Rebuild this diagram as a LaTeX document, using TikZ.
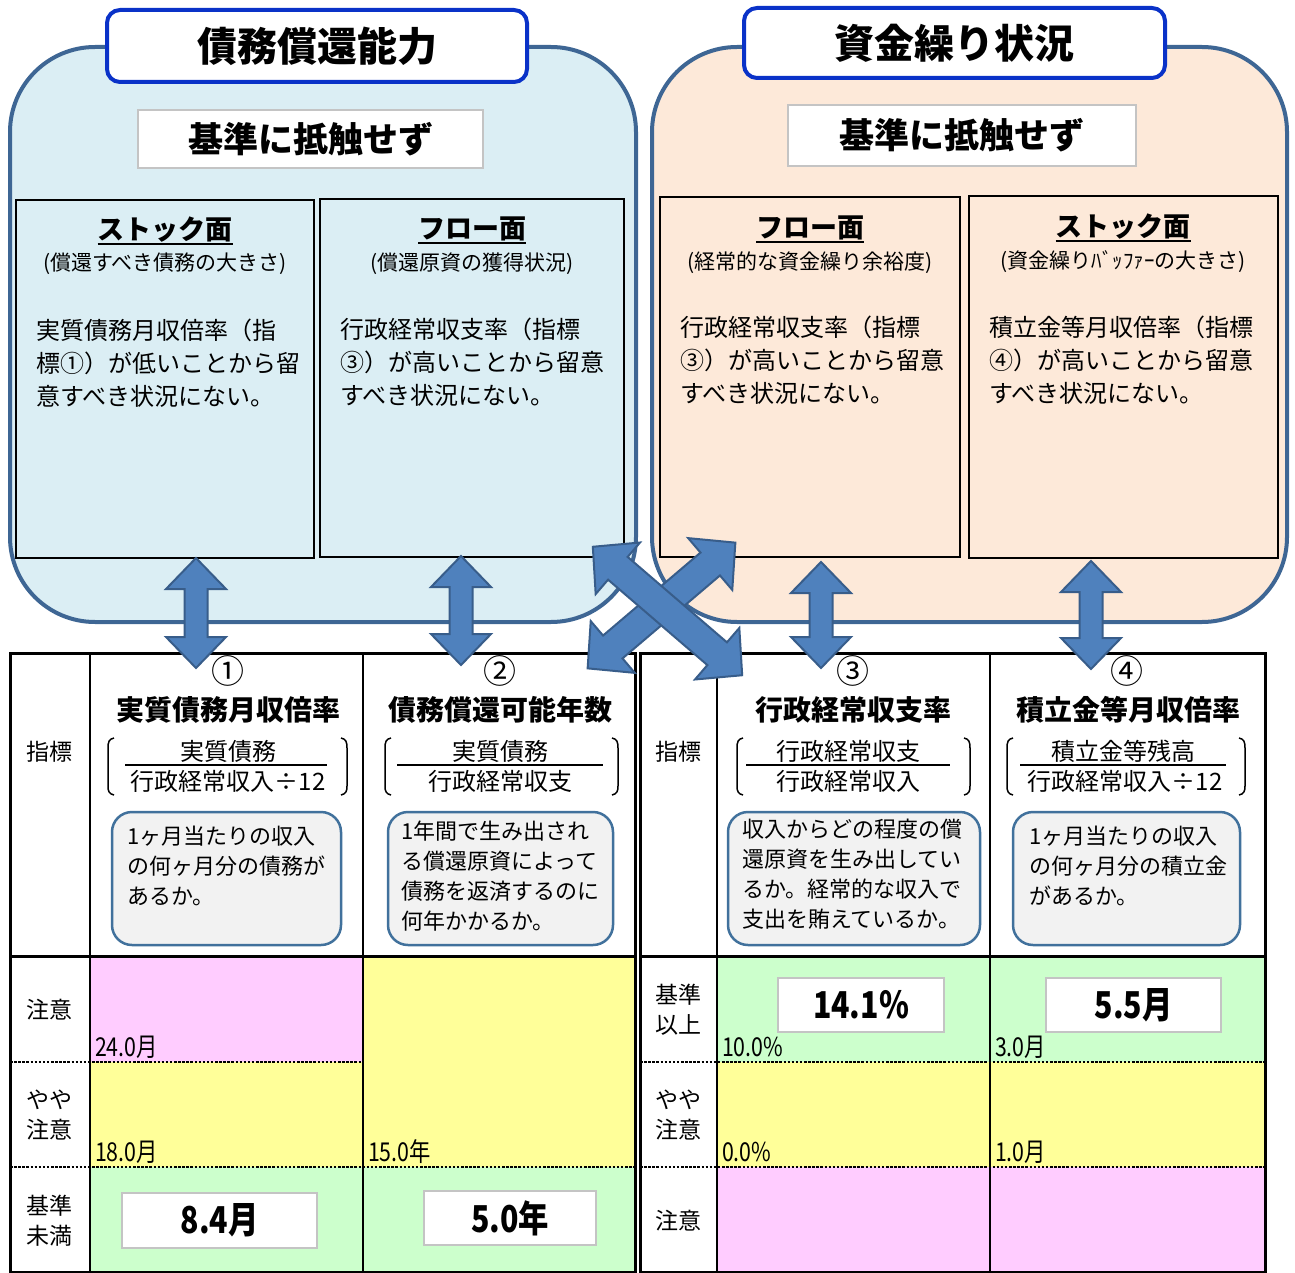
\documentclass[tikz,border=0pt]{standalone}
\usepackage{fontspec}
\setmainfont{Noto Sans CJK JP}
\newfontfamily\condfont[FakeStretch=0.82]{Noto Sans CJK JP}
\usetikzlibrary{calc}
\definecolor{bigblue}{RGB}{219,238,244}
\definecolor{bigpeach}{RGB}{253,233,217}
\definecolor{bigedge}{RGB}{62,102,148}
\definecolor{titleedge}{RGB}{10,50,200}
\definecolor{grayedge}{RGB}{196,196,196}
\definecolor{arrowfill}{RGB}{79,129,189}
\definecolor{arrowedge}{RGB}{56,93,138}
\definecolor{descfill}{RGB}{242,242,242}
\definecolor{descedge}{RGB}{65,113,156}
\definecolor{pinkc}{RGB}{255,204,255}
\definecolor{yellowc}{RGB}{255,255,153}
\definecolor{greenc}{RGB}{204,255,204}
\newcommand{\fsz}[1]{\fontsize{#1}{#1}\selectfont}
\newcommand{\fszl}[2]{\fontsize{#1}{#2}\selectfont}
% cx, cy, angle, halflength, shaft half-width, head half-width, head length
\newcommand{\dblarrow}[7]{%
  \draw[blockarrow, shift={(#1,#2)}, rotate=#3]
    (-#4,0) -- (-#4+#7,#6) -- (-#4+#7,#5) -- (#4-#7,#5) -- (#4-#7,#6) -- (#4,0)
    -- (#4-#7,-#6) -- (#4-#7,-#5) -- (-#4+#7,-#5) -- (-#4+#7,-#6) -- cycle;}
\begin{document}
\begin{tikzpicture}[x=1pt,y=-1pt,
  every node/.style={inner sep=0pt, outer sep=0pt},
  bigbox/.style={draw=bigedge, line width=4pt, rounded corners=85pt, anchor=north west},
  titlebox/.style={draw=titleedge, fill=white, line width=4pt, rounded corners=13pt, anchor=north west, font=\bfseries\fsz{40}},
  graybox/.style={draw=grayedge, fill=white, line width=2pt, anchor=north west, font=\bfseries\fsz{35}},
  panel/.style={draw=black, line width=1.6pt, anchor=north west},
  phead/.style={font=\bfseries\fsz{27}},
  psub/.style={font=\fsz{21}},
  pbody/.style={font=\fszl{24}{33}, align=left, anchor=north west},
  descbox/.style={draw=descedge, fill=descfill, line width=2.5pt, rounded corners=20pt, anchor=north west},
  desctext/.style={font=\fszl{22}{30}, align=left, anchor=north west},
  valbox/.style={draw=grayedge, fill=white, line width=2pt, font=\condfont\bfseries\fsz{37}},
  blockarrow/.style={fill=arrowfill, draw=arrowedge, line width=2pt, line join=miter},
  tline/.style={line width=3pt},
  cline/.style={line width=2.5pt},
  dline/.style={line width=2.5pt, dash pattern=on 2.5pt off 1.6pt},
  num/.style={font=\fsz{33}},
  idxname/.style={font=\bfseries\fsz{28}},
  frac/.style={font=\fsz{24}},
  lab/.style={font=\fszl{23}{30}, align=center},
  thr/.style={font=\condfont\fsz{26}, anchor=west},
  bracket/.style={line width=1.5pt}
]
\useasboundingbox (0,0) rectangle (1295,1273);

% ---------- big rounded regions ----------
\node[bigbox, fill=bigblue, minimum width=626pt, minimum height=575pt] (lbig) at (10,47) {};
\node[bigbox, fill=bigpeach, minimum width=635pt, minimum height=575pt] (rbig) at (652,47) {};

% ---------- titles ----------
\node[titlebox, minimum width=420pt, minimum height=72pt] (ltitle) at (107,10) {債務償還能力};
\node[titlebox, minimum width=421pt, minimum height=70pt] (rtitle) at (744,8) {資金繰り状況};

\node[graybox, minimum width=345pt, minimum height=58pt] (lok) at (138,110) {基準に抵触せず};
\node[graybox, minimum width=348pt, minimum height=61pt] (rok) at (788,105) {基準に抵触せず};

% ---------- panels ----------
\node[panel, minimum width=298pt, minimum height=358pt] (p1) at (16,200) {};
\node[panel, minimum width=304pt, minimum height=358pt] (p2) at (320,199) {};
\node[panel, minimum width=300pt, minimum height=360pt] (p3) at (660,197) {};
\node[panel, minimum width=309pt, minimum height=362pt] (p4) at (969,196) {};

\node[phead] (h1) at (165,230) {ストック面};
\node[phead] (h2) at (472,229) {フロー面};
\node[phead] (h3) at (810,228) {フロー面};
\node[phead] (h4) at (1123,227) {ストック面};
\foreach \h in {h1,h2,h3,h4}{
  \draw[line width=1.8pt] ([yshift=-1.5pt]\h.south west) -- ([yshift=-1.5pt]\h.south east);
}
\node[psub] (s1) at (165,264) {(償還すべき債務の大きさ)};
\node[psub] (s2) at (472,264) {(償還原資の獲得状況)};
\node[psub] (s3) at (810,263) {(経常的な資金繰り余裕度)};
\node[psub] (s4) at (1123,262) {(資金繰りﾊﾞｯﾌｧｰの大きさ)};

\node[pbody] (b1) at (36,319) {実質債務月収倍率（指\\標①）が低いことから留\\意すべき状況にない。};
\node[pbody] (b2) at (340,318) {行政経常収支率（指標\\③）が高いことから留意\\すべき状況にない。};
\node[pbody] (b3) at (680,316) {行政経常収支率（指標\\③）が高いことから留意\\すべき状況にない。};
\node[pbody] (b4) at (989,316) {積立金等月収倍率（指標\\④）が高いことから留意\\すべき状況にない。};

% ---------- table fills ----------
\fill[pinkc]   (90,956) rectangle (363,1062);
\fill[yellowc] (90,1062) rectangle (363,1167);
\fill[greenc]  (90,1167) rectangle (363,1272);
\fill[yellowc] (363,956) rectangle (636,1167);
\fill[greenc]  (363,1167) rectangle (636,1272);
\fill[greenc]  (717,956) rectangle (1265,1062);
\fill[yellowc] (717,1062) rectangle (1265,1167);
\fill[pinkc]   (717,1167) rectangle (1265,1272);

% ---------- table lines ----------
\draw[dline] (10,1062) -- (363,1062);
\draw[dline] (10,1167) -- (636,1167);
\draw[dline] (640,1062) -- (1265,1062);
\draw[dline] (640,1167) -- (1265,1167);
\draw[cline] (90,653) -- (90,1272);
\draw[cline] (363,653) -- (363,1272);
\draw[cline] (717,653) -- (717,1272);
\draw[cline] (990,653) -- (990,1272);
\draw[tline] (10,956) -- (636,956);
\draw[tline] (640,956) -- (1265,956);
\draw[tline] (10,653) rectangle (635,1272);
\draw[tline] (640,653) rectangle (1265,1272);

% ---------- header row ----------
\node[lab] (lidx) at (50,752) {指標};
\node[lab] (ridx) at (678,752) {指標};

\node[num] (n1) at (228,671) {①};
\node[num] (n2) at (500,671) {②};
\node[num] (n3) at (853,671) {③};
\node[num] (n4) at (1127,671) {④};

\node[idxname] (i1) at (228,710) {実質債務月収倍率};
\node[idxname] (i2) at (500,710) {債務償還可能年数};
\node[idxname] (i3) at (853,710) {行政経常収支率};
\node[idxname] (i4) at (1128,710) {積立金等月収倍率};

\node[frac] (f1n) at (228,751) {実質債務};
\node[frac] (f1d) at (228,781) {行政経常収入÷12};
\node[frac] (f2n) at (500,751) {実質債務};
\node[frac] (f2d) at (500,781) {行政経常収支};
\node[frac] (f3n) at (848,751) {行政経常収支};
\node[frac] (f3d) at (848,781) {行政経常収入};
\node[frac] (f4n) at (1123,751) {積立金等残高};
\node[frac] (f4d) at (1125,781) {行政経常収入÷12};
\draw[line width=1.6pt] (125,765) -- (327,765);
\draw[line width=1.6pt] (397,765) -- (603,765);
\draw[line width=1.6pt] (746,765) -- (950,765);
\draw[line width=1.6pt] (1020,765) -- (1226,765);

\foreach \bx in {108,385,737,1007}{
  \draw[bracket] (\bx+6,738) .. controls (\bx+1,739) and (\bx,742) .. (\bx,748) -- (\bx,786)
     .. controls (\bx,791) and (\bx+1,794) .. (\bx+6,795);
}
\foreach \bx in {347,618,970,1245}{
  \draw[bracket] (\bx-6,738) .. controls (\bx-1,739) and (\bx,742) .. (\bx,748) -- (\bx,786)
     .. controls (\bx,791) and (\bx-1,794) .. (\bx-6,795);
}

\node[descbox, minimum width=229pt, minimum height=133pt] (d1) at (112,812) {};
\node[descbox, minimum width=225pt, minimum height=133pt] (d2) at (388,812) {};
\node[descbox, minimum width=252pt, minimum height=133pt] (d3) at (728,812) {};
\node[descbox, minimum width=227pt, minimum height=133pt] (d4) at (1013,812) {};
\node[desctext] (t1) at (127,826) {1ヶ月当たりの収入\\の何ヶ月分の債務が\\あるか。};
\node[desctext] (t2) at (401,821) {1年間で生み出され\\る償還原資によって\\債務を返済するのに\\何年かかるか。};
\node[desctext] (t3) at (742,819) {収入からどの程度の償\\還原資を生み出してい\\るか。経常的な収入で\\支出を賄えているか。};
\node[desctext] (t4) at (1029,826) {1ヶ月当たりの収入\\の何ヶ月分の積立金\\があるか。};

% ---------- level labels ----------
\node[lab] (ll1) at (50,1010) {注意};
\node[lab] (ll2) at (50,1115) {やや\\注意};
\node[lab] (ll3) at (50,1221) {基準\\未満};
\node[lab] (rl1) at (678,1010) {基準\\以上};
\node[lab] (rl2) at (678,1115) {やや\\注意};
\node[lab] (rl3) at (678,1221) {注意};

\node[thr] (th1) at (95,1047) {24.0月};
\node[thr] (th2) at (95,1152) {18.0月};
\node[thr] (th3) at (368,1152) {15.0年};
\node[thr] (th4) at (722,1047) {10.0\%};
\node[thr] (th5) at (722,1152) {0.0\%};
\node[thr] (th6) at (995,1047) {3.0月};
\node[thr] (th7) at (995,1152) {1.0月};

\node[valbox, minimum width=195pt, minimum height=55pt] (v1) at (219.5,1220.5) {8.4月};
\node[valbox, minimum width=172pt, minimum height=54pt] (v2) at (510,1218) {5.0年};
\node[valbox, minimum width=166pt, minimum height=54pt] (v3) at (861,1005) {14.1\%};
\node[valbox, minimum width=175pt, minimum height=54pt] (v4) at (1133.5,1005) {5.5月};

% ---------- vertical double arrows ----------
\dblarrow{196}{613}{90}{55}{11.5}{30}{31}
\dblarrow{461}{610.5}{90}{54.5}{11.5}{30}{31}
\dblarrow{821}{615}{90}{53}{11.5}{30}{31}
\dblarrow{1091}{615}{90}{54}{11.5}{30}{31}

% ---------- crossing arrows ----------
\dblarrow{661.5}{605.5}{40.4}{97}{15}{34}{33}
\dblarrow{667.5}{611}{-40.7}{98.5}{15}{34}{33}
\end{tikzpicture}
\end{document}
